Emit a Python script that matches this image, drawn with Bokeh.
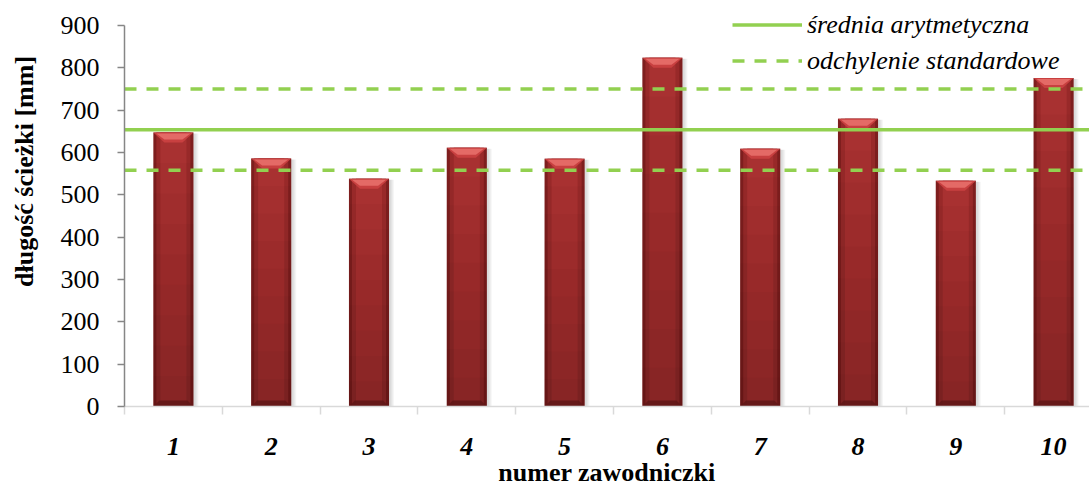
import math
from bokeh.plotting import figure
from bokeh.layouts import row
from bokeh.models import Range1d, FixedTicker, Legend, LegendItem
from bokeh.core.properties import value
from bokeh.embed import file_html
from bokeh.resources import INLINE

# --- data -------------------------------------------------------------
athletes = [1, 2, 3, 4, 5, 6, 7, 8, 9, 10]
path_length = [647, 586, 538, 611, 585, 824, 609, 680, 533, 776]
mean_length = 654
std_length = 96
y_ticks = [0, 100, 200, 300, 400, 500, 600, 700, 800, 900]

# --- style --------------------------------------------------------------
SERIF = "'Liberation Serif', 'Times New Roman', Times, serif"
FS = "26px"
GREEN = "#92D050"
BAR_W = 0.41

X_END = 10.367
Y_END = 900 * 406 / 381     # leaves room above 900 for the legend

# narrow panel carrying the vertical y-axis title
title_panel = figure(width=40, height=488, output_backend="svg",
                     toolbar_location=None, x_range=Range1d(0, 40),
                     y_range=Range1d(0, 488), x_axis_type=None, y_axis_type=None,
                     min_border=0)
title_panel.outline_line_color = None
title_panel.grid.visible = False
title_panel.text(x=[24], y=[488 - 206], text=["długość ścieżki [mm]"], angle=math.pi / 2,
                 text_align="center", text_baseline="middle",
                 text_font=value(SERIF), text_font_style="bold",
                 text_font_size=FS, text_color="black")

p = figure(frame_width=965, frame_height=406, output_backend="svg",
           toolbar_location=None,
           x_range=Range1d(0.5, X_END), y_range=Range1d(0, Y_END),
           min_border_left=84, min_border_right=0, min_border_top=0,
           min_border_bottom=82)
p.outline_line_color = None
p.grid.visible = False

px_x = 965 / (X_END - 0.5)   # pixels per category
px_y = 406 / Y_END           # pixels per mm

def dx(px):
    return px / px_x

def dy(px):
    return px / px_y

# soft shadow to the right of each bar
for k in range(4):
    p.vbar(x=[a + dx(2 + k) for a in athletes], width=BAR_W, bottom=0,
           top=[v - dy(1) for v in path_length],
           fill_color="#000000", fill_alpha=0.035, line_color=None)

# bar body
p.vbar(x=athletes, width=BAR_W, bottom=0, top=path_length,
       fill_color="#7E1E1E", line_color=None)
p.vbar(x=athletes, width=BAR_W - dx(6), bottom=0, top=path_length,
       fill_color="#982929", line_color=None)
p.vbar(x=athletes, width=BAR_W - dx(14), bottom=0, top=path_length,
       fill_color="#A83131", line_color=None)

# darker towards the base
for k in range(1, 9):
    p.vbar(x=athletes, width=BAR_W, bottom=0,
           top=[v * (1 - k / 9) for v in path_length],
           fill_color="#000000", fill_alpha=0.025, line_color=None)

# top and bottom bevels
bev = dy(10)
ins = dx(11)
top_xs, top_ys, hi_xs, hi_ys = [], [], [], []
bot_xs, bot_ys = [], []
for a, v in zip(athletes, path_length):
    l, r = a - BAR_W / 2, a + BAR_W / 2
    top_xs.append([l, r, r - ins, l + ins])
    top_ys.append([v, v, v - bev, v - bev])
    hi_xs.append([l + dx(3), r - dx(3), r - ins, l + ins])
    hi_ys.append([v - dy(1), v - dy(1), v - dy(7), v - dy(7)])
    bot_xs.append([l, r, r - dx(6), l + dx(6)])
    bot_ys.append([0, 0, dy(6), dy(6)])
p.patches(top_xs, top_ys, fill_color="#C84040", line_color=None)
p.patches(hi_xs, hi_ys, fill_color="#E46A66", line_color=None)
p.patches(bot_xs, bot_ys, fill_color="#5E1616", fill_alpha=0.8, line_color=None)

# mean and standard deviation lines
span_x = [0.5, X_END]
mean_r = p.line(span_x, [mean_length] * 2, line_color=GREEN, line_width=3.5)
p.line(span_x, [mean_length + std_length] * 2, line_color=GREEN,
       line_width=3.5, line_dash="12 10")
std_r = p.line(span_x, [mean_length - std_length] * 2, line_color=GREEN,
               line_width=3.5, line_dash="12 10")

legend = Legend(items=[LegendItem(label="średnia arytmetyczna", renderers=[mean_r]),
                       LegendItem(label="odchylenie standardowe", renderers=[std_r])],
                location=(608, 330), orientation="vertical",
                padding=0, margin=0, spacing=5, glyph_width=70, glyph_height=31,
                label_height=31, label_standoff=5,
                label_text_font=SERIF, label_text_font_style="italic",
                label_text_font_size=FS, label_text_color="black",
                border_line_alpha=0, background_fill_alpha=0)
p.add_layout(legend, "center")

# y axis
p.yaxis.ticker = FixedTicker(ticks=y_ticks)
p.yaxis.bounds = (0, 900)
p.yaxis.axis_line_color = "#868686"
p.yaxis.axis_line_width = 1.5
p.yaxis.major_tick_line_color = "#868686"
p.yaxis.major_tick_line_width = 1.5
p.yaxis.major_tick_out = 7
p.yaxis.major_tick_in = 0
p.yaxis.minor_tick_line_color = None
p.yaxis.major_label_standoff = 18
p.yaxis.major_label_text_font = SERIF
p.yaxis.major_label_text_font_size = FS
p.yaxis.major_label_text_color = "black"

# x axis: separators between athletes, labels at bar centres
p.xaxis.ticker = FixedTicker(ticks=athletes,
                             minor_ticks=[a - 0.5 for a in athletes] + [10.5])
p.xaxis.axis_line_color = "#D9D9D9"
p.xaxis.axis_line_width = 1.5
p.xaxis.major_tick_line_color = None
p.xaxis.minor_tick_line_color = "#D9D9D9"
p.xaxis.minor_tick_line_width = 1.5
p.xaxis.minor_tick_out = 8
p.xaxis.minor_tick_in = 0
p.xaxis.major_tick_out = 8
p.xaxis.major_label_standoff = 23
p.xaxis.major_label_text_font = SERIF
p.xaxis.major_label_text_font_style = "bold italic"
p.xaxis.major_label_text_font_size = FS
p.xaxis.major_label_text_color = "black"
p.xaxis.axis_label = "numer zawodniczki"
p.xaxis.axis_label_text_font = SERIF
p.xaxis.axis_label_text_font_style = "bold"
p.xaxis.axis_label_text_font_size = FS
p.xaxis.axis_label_text_color = "black"
p.xaxis.axis_label_standoff = 0

layout = row(title_panel, p, spacing=0)
open("out.html", "w").write(file_html(layout, INLINE))
